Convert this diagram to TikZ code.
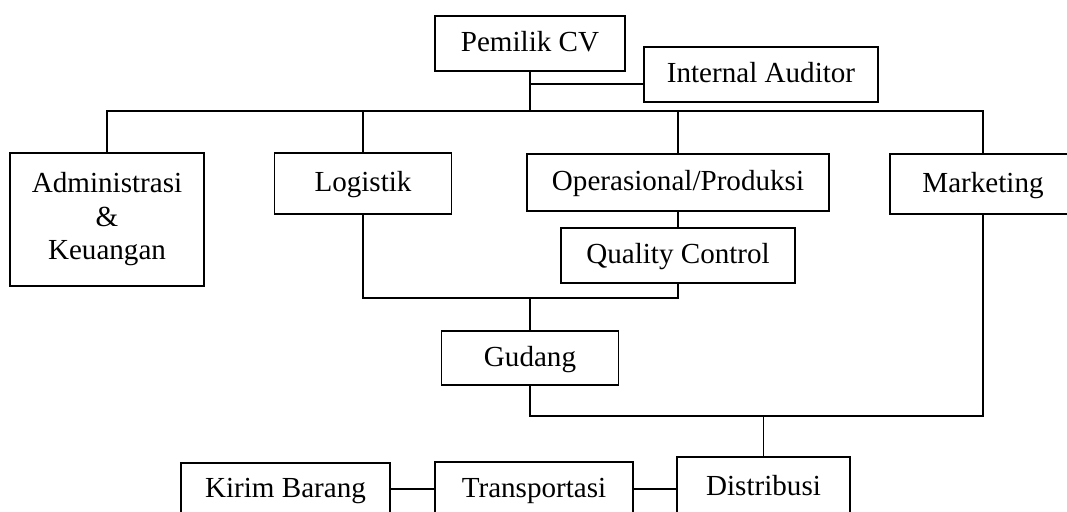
\documentclass[tikz,border=0pt]{standalone}
\usepackage{fontspec}
\setmainfont{Liberation Serif}
\usepackage{tikz}
\usetikzlibrary{positioning,calc}

\begin{document}
\begin{tikzpicture}[x=0.0145cm, y=-0.0145cm, line width=0.6pt,
    box/.style={draw, inner sep=0pt, align=center, font=\fontsize{12}{13.8}\selectfont},
    post/.style={box, text height=0.662em, text depth=0pt}]
        \useasboundingbox (0,0) rectangle (1067,511);
        \clip (0,0) rectangle (1067,511);

        % top level
        \node[post, minimum width=2.755cm, minimum height=0.7975cm] (pemilik) at (530,43.5) {Pemilik CV};
        \node[post, minimum width=3.393cm, minimum height=0.7975cm] (auditor) at (761,74.5) {Internal Auditor};
        \coordinate (ia) at (530,84);
        \coordinate (bus) at (530,111);

        % divisions
        \node[box, minimum width=2.813cm, minimum height=1.9285cm] (admin) at (107,219.5) {Administrasi\\ \&\\ Keuangan};
        \node[post, minimum width=2.5665cm, minimum height=0.8845cm] (logistik) at (363,183.5) {Logistik};
        \node[post, minimum width=4.379cm, minimum height=0.8265cm] (operasional) at (678,182.5) {Operasional/Produksi};
        \node[post, minimum width=2.697cm, minimum height=0.87cm] (marketing) at (983,184) {Marketing};
        \node[post, minimum width=3.393cm, minimum height=0.7975cm] (qc) at (678,255.5) {Quality Control};

        % store and delivery
        \coordinate (store) at (530,298);
        \node[post, minimum width=2.5665cm, minimum height=0.783cm] (gudang) at (530,358) {Gudang};
        \coordinate (dist) at (763.5,416);
        \node[post, minimum width=2.5085cm, minimum height=0.87cm] (distribusi) at (763.5,487) {Distribusi};
        \node[post, minimum width=2.871cm, minimum height=0.783cm] (transportasi) at (534,489) {Transportasi};
        \node[post, minimum width=3.0305cm, minimum height=0.754cm] (kirim) at (285.5,489) {Kirim Barang};

        \draw (pemilik.south) -- (bus);
        \draw (ia) -- (ia -| auditor.west);
        \draw (admin.north) -- (admin.north |- bus) -- (bus -| marketing.north) -- (marketing.north);
        \draw (logistik.north) -- (logistik.north |- bus);
        \draw (operasional.north) -- (operasional.north |- bus);
        \draw (operasional.south) -- (qc.north);

        \draw (logistik.south) -- (logistik.south |- store) -- (store -| qc.south) -- (qc.south);
        \draw (store) -- (gudang.north);
        \draw (gudang.south) -- (gudang.south |- dist) -- (dist -| marketing.south) -- (marketing.south);
        \draw (dist) -- (distribusi.north);
        \draw (kirim.east) -- (kirim.east -| transportasi.west);
        \draw (transportasi.east) -- (transportasi.east -| distribusi.west);
    \end{tikzpicture}
\end{document}
